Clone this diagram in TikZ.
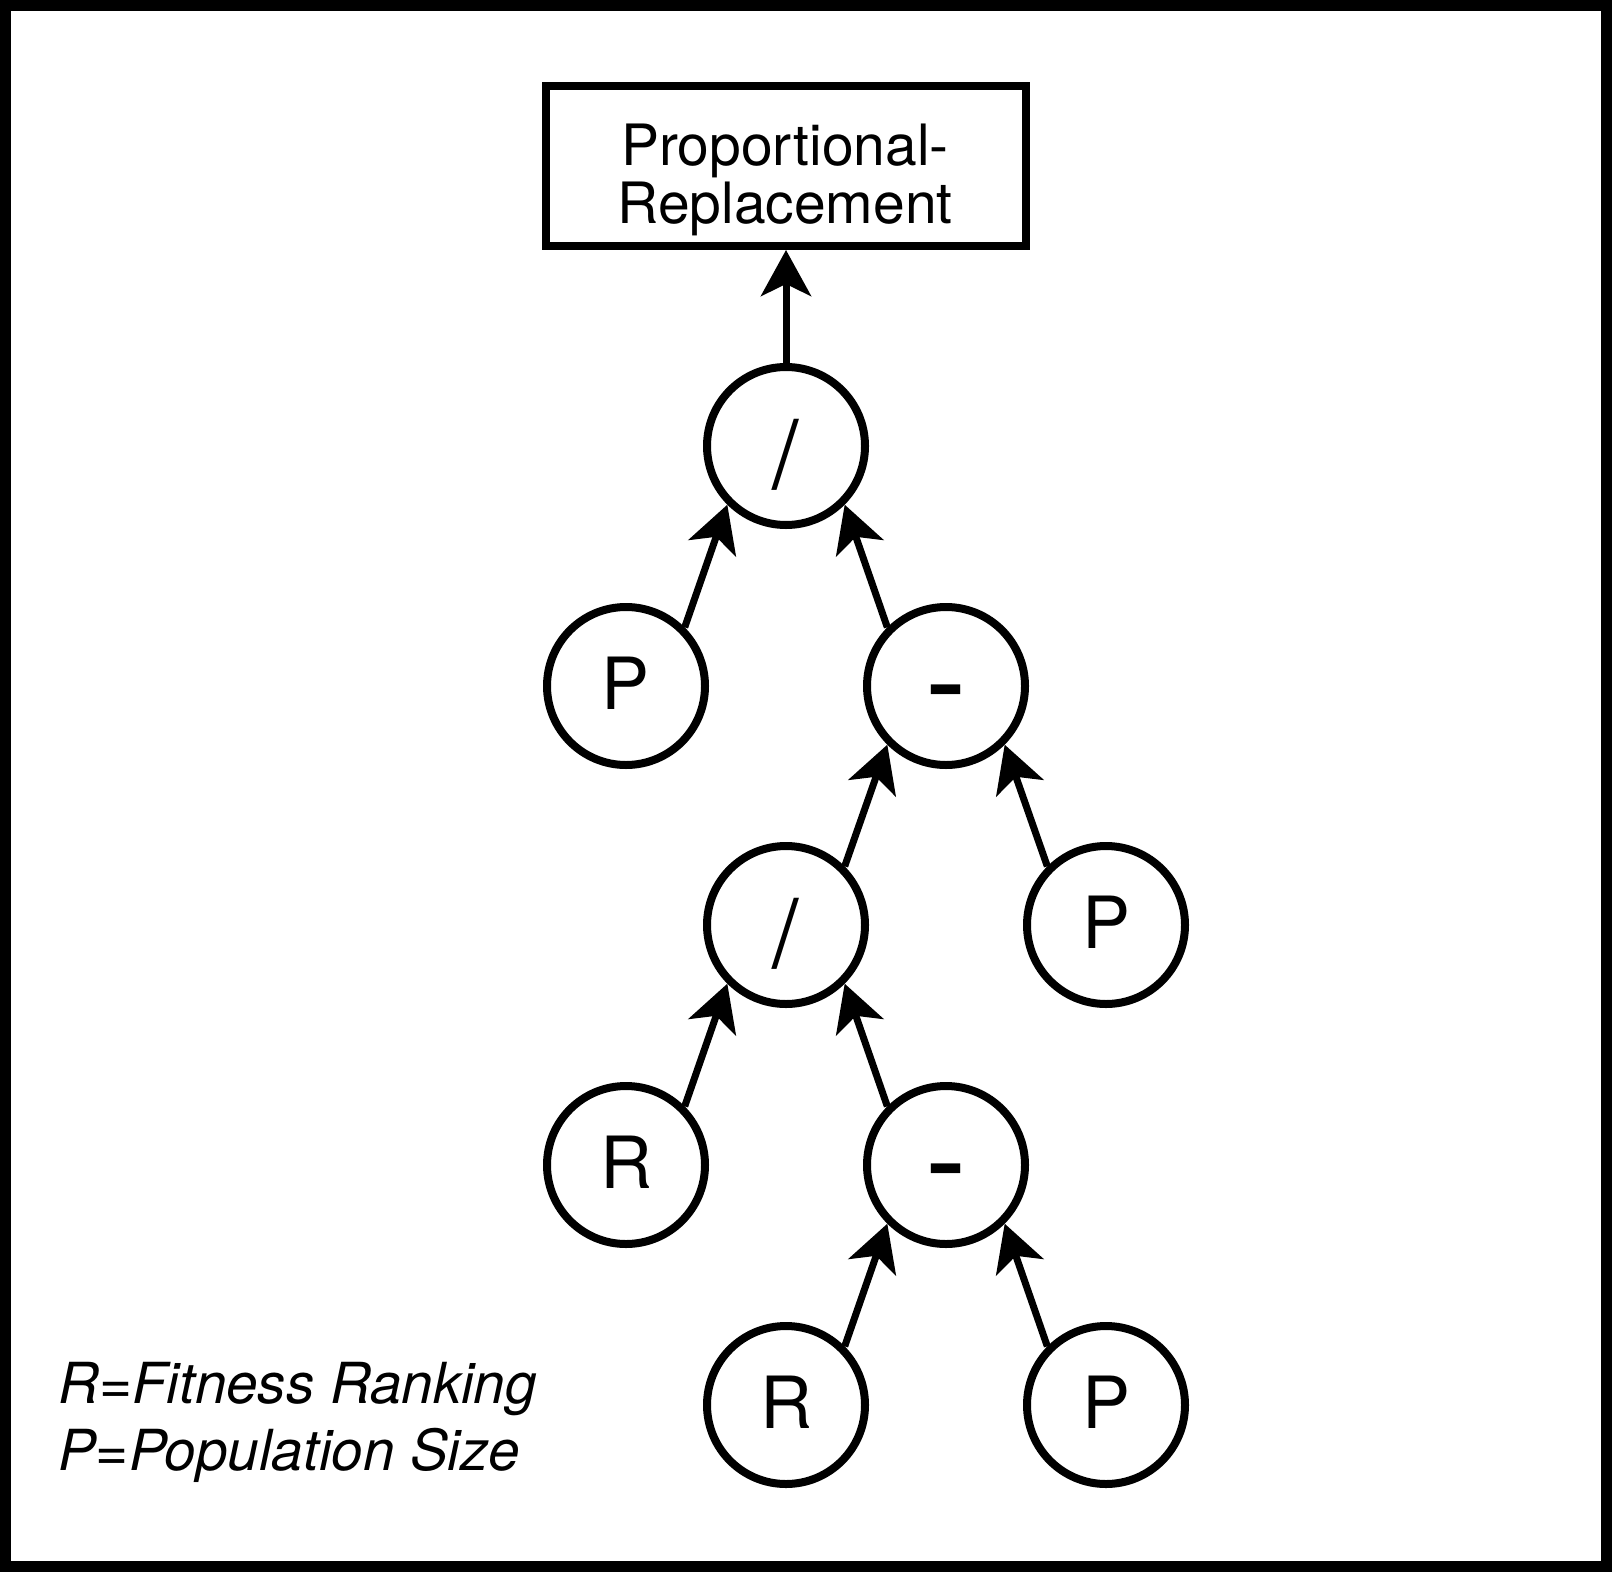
\documentclass[tikz,border=0pt]{standalone}
\usepackage{fontspec}
\setmainfont{TeX Gyre Heros}
\usetikzlibrary{arrows.meta}
\begin{document}
\begin{tikzpicture}[x=1pt,y=-1pt,
  nd/.style={circle, draw, line width=8pt, minimum size=158pt, inner sep=0pt,
    font=\fontsize{72}{72}\selectfont, text height=47pt, text depth=0pt},
  sl/.style={nd, font=\fontsize{95}{95}\selectfont, text height=84pt},
  mn/.style={nd, font=\fontsize{72}{72}\selectfont\bfseries},
  arr/.style={line width=7pt, -{Stealth[length=46pt,width=50pt,inset=12pt]}},
  boxst/.style={rectangle, draw, line width=8pt, minimum width=480pt, minimum height=160pt, inner sep=0pt},
  boxtext/.style={font=\fontsize{57}{58}\selectfont, align=center, inner sep=0pt},
  legendst/.style={font=\fontsize{56.6}{67}\selectfont\itshape, align=left, inner sep=0pt, anchor=north west}]
\useasboundingbox (0,0) rectangle (1616,1576);
\draw[line width=11pt] (5.5,6) rectangle (1606.5,1566);

\node[boxst] (box) at (786,166) {};
\node[boxtext] (boxlbl) at (785,180) {Proportional-\\Replacement};

\node[sl] (d1) at (786,446) {/};
\node[nd] (p1) at (626,686) {P};
\node[mn] (m1) at (946,686) {\scalebox{1.5}[1]{-}};
\node[sl] (d2) at (786,925) {/};
\node[nd] (p2) at (1106,925) {P};
\node[nd] (r1) at (626,1165) {R};
\node[mn] (m2) at (946,1165) {\scalebox{1.5}[1]{-}};
\node[nd] (r2) at (786,1405) {R};
\node[nd] (p3) at (1106,1405) {P};

\draw[arr] (d1.north) -- (box.south);
\draw[arr] (p1.45) -- (d1.-135);
\draw[arr] (m1.135) -- (d1.-45);
\draw[arr] (d2.45) -- (m1.-135);
\draw[arr] (p2.135) -- (m1.-45);
\draw[arr] (r1.45) -- (d2.-135);
\draw[arr] (m2.135) -- (d2.-45);
\draw[arr] (r2.45) -- (m2.-135);
\draw[arr] (p3.135) -- (m2.-45);

\node[legendst] (legend) at (58,1362) {R=Fitness Ranking\\P=Population Size};
\end{tikzpicture}
\end{document}
